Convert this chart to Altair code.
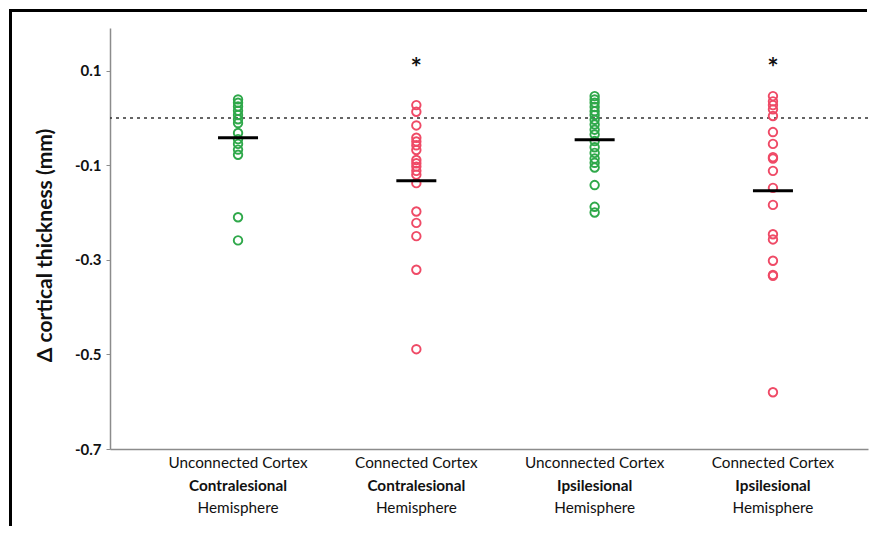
import altair as alt
import pandas as pd

# ---- data ----
line1 = ["Unconnected Cortex", "Connected Cortex", "Unconnected Cortex", "Connected Cortex"]
line2 = ["Contralesional", "Contralesional", "Ipsilesional", "Ipsilesional"]
line3 = ["Hemisphere", "Hemisphere", "Hemisphere", "Hemisphere"]
group_pos = [1, 2, 3, 4]
group_kind = ["Unconnected", "Connected", "Unconnected", "Connected"]

g1_values = [0.039, 0.032, 0.024, 0.015, 0.006, -0.003, -0.011, -0.032, -0.045,
             -0.055, -0.067, -0.078, -0.210, -0.259]
g2_values = [0.027, 0.013, -0.016, -0.042, -0.050, -0.058, -0.068, -0.089, -0.096,
             -0.103, -0.112, -0.120, -0.138, -0.198, -0.222, -0.250, -0.321, -0.489]
g3_values = [0.046, 0.039, 0.032, 0.023, 0.014, 0.006, -0.004, -0.014, -0.025,
             -0.035, -0.049, -0.062, -0.074, -0.086, -0.095, -0.105, -0.142,
             -0.188, -0.200]
g4_values = [0.046, 0.035, 0.027, 0.018, 0.004, -0.030, -0.055, -0.083, -0.086,
             -0.112, -0.148, -0.184, -0.246, -0.257, -0.302, -0.332, -0.334, -0.580]
group_means = [-0.042, -0.133, -0.046, -0.154]
significant = [False, True, False, True]
star_level = 0.116

y_ticks = [0.1, -0.1, -0.3, -0.5, -0.7]

# ---- tables ----
rows = []
for p, k, vals in zip(group_pos, group_kind, [g1_values, g2_values, g3_values, g4_values]):
    for v in vals:
        rows.append({"pos": p, "kind": k, "value": v})
points = pd.DataFrame(rows)
groups = pd.DataFrame({"pos": group_pos, "mean": group_means, "l1": line1,
                       "l2": line2, "l3": line3, "sig": significant})
stars = groups[groups["sig"]].assign(y=star_level)

W, H = 758, 421
PAD_L, PAD_T, PAD_R, PAD_B = 102, 20, 1, 79
FONT = "Lato"

xscale = alt.Scale(domain=[0.282, 4.533], nice=False, zero=False)
yscale = alt.Scale(domain=[-0.7, 0.19], nice=False, zero=False)

x_enc = alt.X("pos:Q", scale=xscale,
              axis=alt.Axis(title=None, labels=False, ticks=False, grid=False,
                            domainColor="#8c8c8c", domainWidth=1.5))

pts = alt.Chart(points).mark_point(shape="circle", filled=False, size=72,
                                   strokeWidth=1.9, opacity=1).encode(
    x=x_enc,
    y=alt.Y("value:Q", scale=yscale,
            axis=alt.Axis(title="Δ cortical thickness (mm)", values=y_ticks,
                          labelExpr="datum.value < 0 ? '-' + format(abs(datum.value), '.1f') : format(datum.value, '.1f')",
                          grid=False, domainColor="#8c8c8c", domainWidth=1.5,
                          tickColor="#8c8c8c", tickSize=4, labelPadding=5,
                          labelFont=FONT, labelFontSize=15, labelFontWeight="bold",
                          labelColor="#111",
                          titleFont=FONT, titleFontSize=21, titleFontWeight="bold",
                          titleColor="#111", titleX=-65, titleY=217,
                          titleAngle=-90, titleAlign="center", titleBaseline="middle")),
    color=alt.Color("kind:N", scale=alt.Scale(domain=["Unconnected", "Connected"],
                                              range=["#2fa84a", "#ef4a66"]), legend=None),
)

zero_line = alt.Chart(pd.DataFrame({"z": [0.0]})).mark_rule(
    color="#333", strokeWidth=1.5, strokeDash=[3, 4]).encode(y=alt.Y("z:Q", scale=yscale))

means = alt.Chart(groups).mark_tick(orient="horizontal", size=40, thickness=3,
                                    color="black", opacity=1).encode(
    x=alt.X("pos:Q", scale=xscale), y=alt.Y("mean:Q", scale=yscale))

star = alt.Chart(stars).mark_text(text="*", font=FONT, fontSize=27, fontWeight="bold",
                                  color="#111", baseline="middle", dy=6).encode(
    x=alt.X("pos:Q", scale=xscale), y=alt.Y("y:Q", scale=yscale))

def label_layer(field, dy, weight):
    return alt.Chart(groups).mark_text(font=FONT, fontSize=15.3, fontWeight=weight,
                                       color="#111", baseline="middle").encode(
        x=alt.X("pos:Q", scale=xscale), y=alt.value(H + dy), text=f"{field}:N")

# figure frame: left and top edges
one = pd.DataFrame({"a": [0]})
frame_left = alt.Chart(one).mark_rect(color="black", strokeWidth=0).encode(
    x=alt.value(-PAD_L + 1), x2=alt.value(-PAD_L + 4), y=alt.value(-PAD_T + 1), y2=alt.value(H + PAD_B - 2))
frame_top = alt.Chart(one).mark_rect(color="black", strokeWidth=0).encode(
    x=alt.value(-PAD_L + 1), x2=alt.value(W + PAD_R - 2), y=alt.value(-PAD_T + 1), y2=alt.value(-PAD_T + 4))

chart = alt.layer(
    zero_line, pts, means, star,
    label_layer("l1", 14, "normal"), label_layer("l2", 37, "bold"), label_layer("l3", 59, "normal"),
    frame_left, frame_top,
).properties(
    width=W, height=H,
    background="white",
    autosize=alt.AutoSizeParams(type="none"),
    padding={"left": PAD_L, "top": PAD_T, "right": PAD_R, "bottom": PAD_B},
).configure_view(stroke=None)

chart.save("out.html", embed_options={"renderer": "svg", "actions": False})
